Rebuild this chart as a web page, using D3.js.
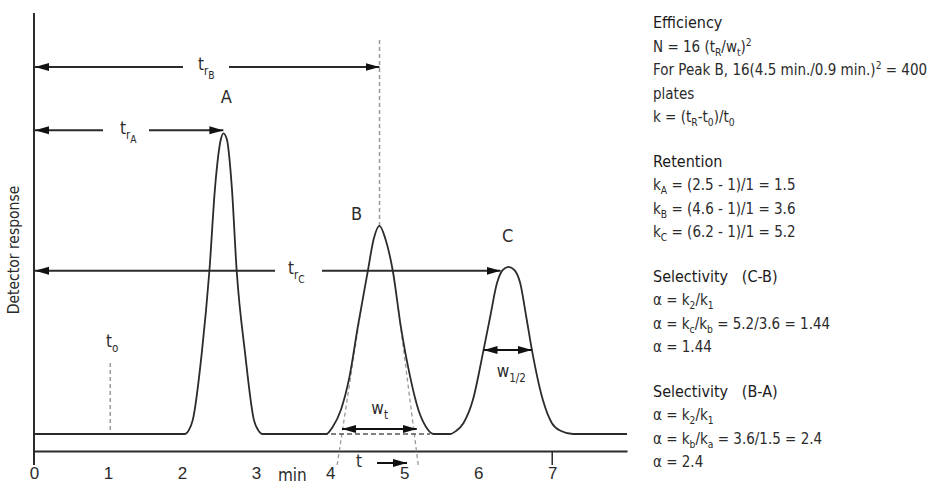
<!DOCTYPE html>
<html>
<head>
<meta charset="utf-8">
<script src="https://cdn.jsdelivr.net/npm/d3@7"></script>
<style>
    body { margin: 0; background: #fff; }
    svg { display: block; font-family: "Liberation Sans Narrow", "DejaVu Sans Condensed", Roboto, sans-serif; }
</style>
</head>
<body>
<div id="chart"></div>
<script>
// chromatogram trace: time (min) / detector response
const traceTime = [0, 2.04, 2.09, 2.145, 2.266, 2.369, 2.446, 2.524, 2.558, 2.605, 2.672, 2.738, 2.851, 2.97, 3.03, 3.08,
    3.95, 4.03, 4.145, 4.261, 4.374, 4.509, 4.59, 4.667, 4.745, 4.847, 4.955, 5.081, 5.193, 5.30, 5.40,
    5.62, 5.70, 5.80, 5.928, 6.072, 6.162, 6.253, 6.33, 6.41, 6.49, 6.568, 6.649, 6.726, 6.874, 6.996, 7.12, 7.28, 8.01];
const traceResp = [0, 0, 1.2, 4.7, 26.9, 54.2, 82.1, 98, 100, 98, 82.1, 54.2, 26.9, 4.7, 1.2, 0,
    0, 2.2, 8, 19, 35.7, 54.2, 65, 69.2, 65, 54.2, 35.7, 19, 8, 2.2, 0,
    0, 1.0, 3.6, 11.3, 27.9, 39, 50.1, 54.5, 55.6, 54.5, 50.1, 39, 27.9, 11.3, 3.6, 1.0, 0, 0];

const peakNames = ['A', 'B', 'C'];
const peakTimes = [2.558, 4.667, 6.41];
const peakHeights = [100, 69.2, 55.6];
const deadTime = 1.03;

// peak B tangent base width, peak C half-height width
const wtStart = 4.16, wtEnd = 5.17;
const tangentFoot = [4.095, 5.19];
const tangentTop = [4.42, 4.92];
const tangentTopResp = 42;
const halfStart = 6.072, halfEnd = 6.726, halfResp = 27.9;

const tickValues = [0, 1, 2, 3, 4, 5, 6, 7];
const majorTicks = [0, 7];

const noteBlocks = [
    [
        [['Efficiency']],
        [['N = 16 (t'], ['R', 'sub'], ['/w'], ['t', 'sub'], [')'], ['2', 'sup']],
        [['For Peak B, 16(4.5 min./0.9 min.)'], ['2', 'sup'], [' = 400']],
        [['plates']],
        [['k = (t'], ['R', 'sub'], ['-t'], ['0', 'sub'], [')/t'], ['0', 'sub']]
    ],
    [
        [['Retention']],
        [['k'], ['A', 'sub'], [' = (2.5 - 1)/1 = 1.5']],
        [['k'], ['B', 'sub'], [' = (4.6 - 1)/1 = 3.6']],
        [['k'], ['C', 'sub'], [' = (6.2 - 1)/1 = 5.2']]
    ],
    [
        [['Selectivity   (C-B)']],
        [['α = k'], ['2', 'sub'], ['/k'], ['1', 'sub']],
        [['α = k'], ['c', 'sub'], ['/k'], ['b', 'sub'], [' = 5.2/3.6 = 1.44']],
        [['α = 1.44']]
    ],
    [
        [['Selectivity   (B-A)']],
        [['α = k'], ['2', 'sub'], ['/k'], ['1', 'sub']],
        [['α = k'], ['b', 'sub'], ['/k'], ['a', 'sub'], [' = 3.6/1.5 = 2.4']],
        [['α = 2.4']]
    ]
];

const W = 936, H = 492;
const ink = '#2b2b2b';
const grey = '#9a9a9a';

const svg = d3.select('#chart').append('svg')
    .attr('width', W)
    .attr('height', H);

const x = d3.scaleLinear().domain([0, 8.01]).range([34, 627]);
const y = d3.scaleLinear().domain([0, 140]).range([434, 13]);
const axisY = 451;

// arrow heads
const defs = svg.append('defs');
defs.append('marker')
    .attr('id', 'head')
    .attr('viewBox', '0 0 14 10')
    .attr('refX', 14).attr('refY', 5)
    .attr('markerWidth', 14).attr('markerHeight', 10)
    .attr('markerUnits', 'userSpaceOnUse')
    .attr('orient', 'auto-start-reverse')
    .append('path')
    .attr('d', 'M0,1 L14,5 L0,9 Z')
    .attr('fill', '#111');

// rich text with sub / sup
function richText(sel, px, py, parts, size, anchor) {
    const t = sel.append('text')
        .attr('x', px).attr('y', py)
        .attr('font-size', size)
        .attr('fill', ink)
        .style('white-space', 'pre')
        .attr('text-anchor', anchor || 'start');
    let shift = 0;
    parts.forEach(([s, kind]) => {
        let target = 0, fs = size;
        if (kind === 'sub') { target = 0.28 * size; fs = size * 0.68; }
        if (kind === 'sub2') { target = 0.55 * size; fs = size * 0.6; }
        if (kind === 'sup') { target = -0.4 * size; fs = size * 0.68; }
        t.append('tspan').attr('dy', target - shift).attr('font-size', fs).text(s);
        shift = target;
    });
    return t;
}

// axes
svg.append('line')
    .attr('x1', x(0)).attr('x2', x(0))
    .attr('y1', y(140)).attr('y2', axisY + 14)
    .attr('stroke', ink).attr('stroke-width', 2);

const xAxis = svg.append('g')
    .attr('transform', `translate(0,${axisY})`)
    .call(d3.axisBottom(x).tickValues(tickValues).tickSize(0).tickPadding(16).tickFormat(d3.format('d')));
xAxis.select('.domain').attr('stroke', ink).attr('stroke-width', 2);
xAxis.selectAll('text').attr('font-size', 17).attr('fill', ink).attr('font-family', null);

svg.selectAll('.major')
    .data(majorTicks.slice(1))
    .enter().append('line')
    .attr('x1', d => x(d)).attr('x2', d => x(d))
    .attr('y1', axisY).attr('y2', axisY + 14)
    .attr('stroke', ink).attr('stroke-width', 1.5);

svg.append('text')
    .attr('x', x(3.49)).attr('y', axisY + 30)
    .attr('text-anchor', 'middle')
    .attr('font-size', 17).attr('fill', ink)
    .text('min');

svg.append('text')
    .attr('transform', 'translate(19,250) rotate(-90)')
    .attr('text-anchor', 'middle')
    .attr('font-size', 15.5).attr('fill', ink)
    .text('Detector response');

// dashed guides
svg.append('line')
    .attr('x1', x(peakTimes[1])).attr('x2', x(peakTimes[1]))
    .attr('y1', 40).attr('y2', y(peakHeights[1]))
    .attr('stroke', grey).attr('stroke-width', 1.5).attr('stroke-dasharray', '4,3');

svg.append('line')
    .attr('x1', x(deadTime)).attr('x2', x(deadTime))
    .attr('y1', 363).attr('y2', y(0))
    .attr('stroke', grey).attr('stroke-width', 1.5).attr('stroke-dasharray', '4,3');

[0, 1].forEach(i => {
    svg.append('line')
        .attr('x1', x(tangentFoot[i])).attr('y1', axisY + 14)
        .attr('x2', x(tangentTop[i])).attr('y2', y(tangentTopResp))
        .attr('stroke', grey).attr('stroke-width', 1.3).attr('stroke-dasharray', '4,3');
});

svg.append('line')
    .attr('x1', x(3.58)).attr('x2', x(5.35))
    .attr('y1', y(0)).attr('y2', y(0))
    .attr('stroke', '#555').attr('stroke-width', 1.5).attr('stroke-dasharray', '5,3');

// trace
const trace = traceTime.map((t, i) => [t, traceResp[i]]);
svg.append('path')
    .datum(trace)
    .attr('fill', 'none')
    .attr('stroke', ink)
    .attr('stroke-width', 1.8)
    .attr('d', d3.line().x(d => x(d[0])).y(d => y(d[1])).curve(d3.curveMonotoneX));

// peak labels
const labelOffsets = [[3, -30], [-23, -6], [-1, -25]];
peakNames.forEach((n, i) => {
    svg.append('text')
        .attr('x', x(peakTimes[i]) + labelOffsets[i][0])
        .attr('y', y(peakHeights[i]) + labelOffsets[i][1])
        .attr('text-anchor', 'middle')
        .attr('font-size', 18).attr('fill', ink)
        .text(n);
});

// retention arrows with a gap for the label
function gapArrow(yPix, xEnd, gapL, gapR, leftHead) {
    svg.append('line')
        .attr('x1', gapL).attr('x2', x(0) + 1)
        .attr('y1', yPix).attr('y2', yPix)
        .attr('stroke', ink).attr('stroke-width', 2)
        .attr('marker-end', leftHead ? 'url(#head)' : null);
    svg.append('line')
        .attr('x1', gapR).attr('x2', xEnd)
        .attr('y1', yPix).attr('y2', yPix)
        .attr('stroke', ink).attr('stroke-width', 2)
        .attr('marker-end', 'url(#head)');
}

gapArrow(67, x(peakTimes[1]), 183, 229, true);
richText(svg, 198, 70, [['t'], ['r', 'sub'], ['B', 'sub2']], 17);

gapArrow(y(peakHeights[0]) - 3, x(peakTimes[0]), 103, 149, true);
richText(svg, 120, 134, [['t'], ['r', 'sub'], ['A', 'sub2']], 17);

gapArrow(y(peakHeights[2]) + 4, x(peakTimes[2]) - 8, 275, 322, true);
richText(svg, 288, 274, [['t'], ['r', 'sub'], ['C', 'sub2']], 17);

richText(svg, 106, 347, [['t'], ['o', 'sub']], 17);

// width arrows
function doubleArrow(x1, x2, yPix) {
    svg.append('line')
        .attr('x1', x1).attr('x2', x2)
        .attr('y1', yPix).attr('y2', yPix)
        .attr('stroke', '#111').attr('stroke-width', 2)
        .attr('marker-start', 'url(#head)')
        .attr('marker-end', 'url(#head)');
}
doubleArrow(x(wtStart), x(wtEnd), 429);
richText(svg, x((wtStart + wtEnd) / 2) - 8, 414, [['w'], ['t', 'sub']], 17);

doubleArrow(x(halfStart), x(halfEnd), y(halfResp));
richText(svg, x((halfStart + halfEnd) / 2) - 11, 377, [['w'], ['1/2', 'sub']], 17);

// t direction arrow under axis
richText(svg, 356, 467, [['t']], 17);
svg.append('line')
    .attr('x1', 377).attr('x2', 407)
    .attr('y1', 463).attr('y2', 463)
    .attr('stroke', '#111').attr('stroke-width', 2)
    .attr('marker-end', 'url(#head)');

// notes on the right
const notes = svg.append('g');
let ny = 23;
noteBlocks.forEach(block => {
    block.forEach((line, j) => {
        richText(notes, 653, ny + 5, line, j === 0 ? 16 : 15)
            .attr('fill', j === 0 ? '#1a1a1a' : ink);
        ny += 23.5;
    });
    ny += 21;
});
</script>
</body>
</html>
